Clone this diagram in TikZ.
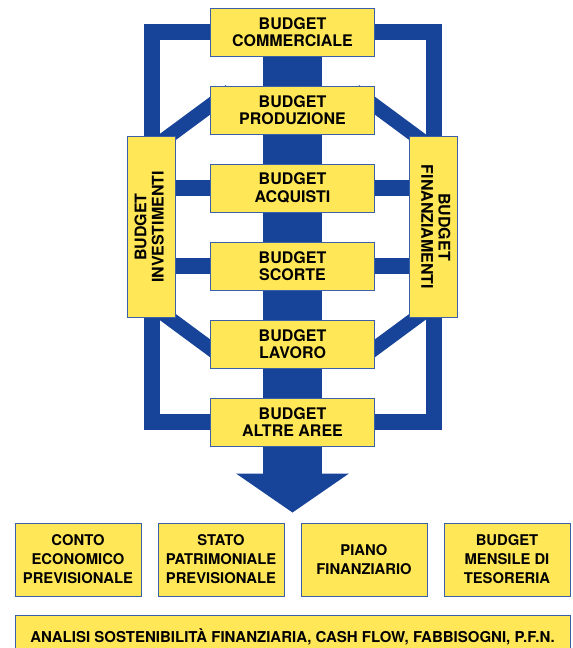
\documentclass[tikz,border=0pt]{standalone}
\usepackage{fontspec}
\setmainfont{TeX Gyre Heros}
\usetikzlibrary{positioning,calc,arrows.meta}
\definecolor{navy}{RGB}{23,67,152}
\definecolor{boxyellow}{RGB}{255,231,87}
\definecolor{boxedge}{RGB}{60,96,168}
\tikzstyle{band} = [draw=navy, line width=16pt]
\tikzstyle{spoke} = [draw=navy, line width=14.4pt]
\pgfdeclarelayer{background}
\pgfsetlayers{background,main}

\begin{document}
\begin{tikzpicture}[
    budget/.style={
      draw=boxedge,
      line width=1pt,
      fill=boxyellow,
      minimum width=164pt,
      minimum height=48pt,
      inner sep=0pt,
      align=center,
      font=\fontsize{16}{17.3}\selectfont\bfseries
    },
    sidebox/.style={
      draw=boxedge,
      line width=1pt,
      fill=boxyellow,
      minimum width=48pt,
      minimum height=181pt,
      inner sep=0pt,
      font=\fontsize{16}{17.3}\selectfont\bfseries
    },
    result/.style={
      draw=boxedge,
      line width=1pt,
      fill=boxyellow,
      minimum width=126pt,
      minimum height=73pt,
      inner sep=0pt,
      align=center,
      font=\fontsize{14.8}{19}\selectfont\bfseries
    },
    summary/.style={
      draw=boxedge,
      line width=1pt,
      fill=boxyellow,
      minimum width=555pt,
      minimum height=44pt,
      inner sep=0pt,
      font=\fontsize{15}{19}\selectfont\bfseries
    }
  ]
  \useasboundingbox (0,0) rectangle (573pt,-648pt);
  \clip (0,0) rectangle (573pt,-648pt);

  \node[budget] (comm) at (292.5pt,-32pt) {BUDGET\\COMMERCIALE};
  \node[budget,below=29pt of comm] (prod) {BUDGET\\PRODUZIONE};
  \node[budget,below=29pt of prod] (acq) {BUDGET\\ACQUISTI};
  \node[budget,below=29pt of acq] (scorte) {BUDGET\\SCORTE};
  \node[budget,below=29pt of scorte] (lavoro) {BUDGET\\LAVORO};
  \node[budget,below=29pt of lavoro] (altre) {BUDGET\\ALTRE AREE};

  \coordinate (midl) at ($(acq.west)!.5!(scorte.west)$);
  \coordinate (midr) at ($(acq.east)!.5!(scorte.east)$);
  \node[sidebox,left=34pt of midl] (inv) {\rotatebox{90}{\begin{tabular}{@{}c@{}}BUDGET\\INVESTIMENTI\end{tabular}}};
  \node[sidebox,right=34pt of midr] (fin) {\rotatebox{-90}{\begin{tabular}{@{}c@{}}BUDGET\\FINANZIAMENTI\end{tabular}}};

  \coordinate[below=66pt of altre.south] (tip);

  \node[result] (conto) at (78pt,-559.5pt) {CONTO\\ECONOMICO\\PREVISIONALE};
  \node[result,right=16pt of conto] (stato) {STATO\\PATRIMONIALE\\PREVISIONALE};
  \node[result,right=16pt of stato] (piano) {PIANO\\FINANZIARIO};
  \node[result,right=16pt of piano] (tesoreria) {BUDGET\\MENSILE DI\\TESORERIA};

  \node[summary,anchor=north west] (analisi) at ($(conto.south west)+(0,-18pt)$) {ANALISI SOSTENIBILITÀ FINANZIARIA, CASH FLOW, FABBISOGNI, P.F.N.};

  \begin{pgfonlayer}{background}
    % outer frame
    \draw[band] (comm) -| (inv) |- (altre);
    \draw[band] (comm) -| (fin) |- (altre);

    % central flow
    \draw[band,line width=59pt,-{Triangle[width=113pt,length=39pt,line width=0pt]}] (comm) -- (tip);

    \draw[band] (acq) -- (acq -| inv);
    \draw[band] (scorte) -- (scorte -| inv);
    \draw[band] (acq) -- (acq -| fin);
    \draw[band] (scorte) -- (scorte -| fin);

    \draw[spoke] (inv.north)+(0,-13pt) -- +(78.5pt,45pt);
    \draw[spoke] (inv.south)+(0,13pt) -- +(78.5pt,-45pt);
    \draw[spoke] (fin.north)+(0,-13pt) -- +(-78.5pt,45pt);
    \draw[spoke] (fin.south)+(0,13pt) -- +(-78.5pt,-45pt);
  \end{pgfonlayer}

\end{tikzpicture}
\end{document}
